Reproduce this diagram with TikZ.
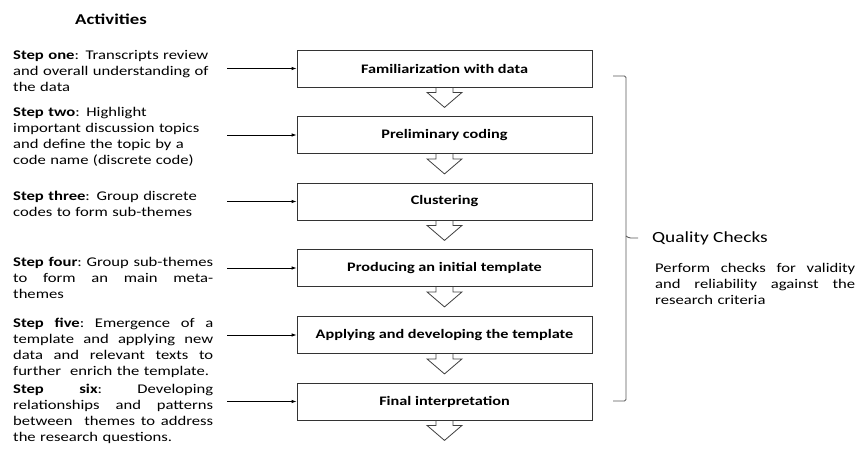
\documentclass[tikz,border=0pt]{standalone}
\usepackage{fontspec}
\setmainfont{Carlito}[FakeStretch=1.25]
\usetikzlibrary{arrows.meta}
% a line whose word spaces stretch to the full column width
\newcommand{\fullline}[1]{\leavevmode\hbox to 200pt{\frenchspacing\spaceskip=0.25em plus 1fil\relax #1}}

\begin{document}
\begin{tikzpicture}[x=1pt,y=-1pt,
  stagebox/.style={draw=black!80, line width=0.8pt, minimum width=295pt,
    minimum height=37pt, inner sep=0pt,
    font=\fontsize{13}{16}\selectfont\bfseries},
  actext/.style={anchor=north west, yshift=11.2pt, inner sep=0pt,
    text width=200pt, align=left, font=\fontsize{13.3}{16}\selectfont},
  feed/.style={-{Latex[length=5pt,width=3.5pt]}, line width=0.8pt},
  hollow/.style={draw=black!75, line width=0.8pt},
  brace/.style={draw=black!65, line width=0.9pt, rounded corners=1.5pt},
]
\useasboundingbox (0,0) rectangle (859,456);

% heading
\node[font=\fontsize{15}{18}\selectfont\bfseries] (head) at (111,19) {Activities};

% process stages
\node[stagebox] (b1) at (444.5,68.5)  {Familiarization with data};
\node[stagebox] (b2) at (444.5,135)   {Preliminary coding};
\node[stagebox] (b3) at (444.5,201.5) {Clustering};
\node[stagebox] (b4) at (444.5,268)   {Producing an initial template};
\node[stagebox] (b5) at (444.5,335)   {Applying and developing the template};
\node[stagebox] (b6) at (444.5,401.5) {Final interpretation};

% hollow block arrows below every stage
\foreach \b in {b1,b2,b3,b4,b5,b6}{
  \draw[hollow, shift={(\b.south)}]
    (-8.5,0) -- (-8.5,5) -- (-17.5,5) -- (0,20) -- (17.5,5) -- (8.5,5) -- (8.5,0);
}

% activity descriptions
\node[actext] (t1) at (13,59.5) {\strut\textbf{Step one}: Transcripts review\\
  and overall understanding of\\ the data};
\node[actext] (t2) at (13,116.5) {\strut\textbf{Step two}: Highlight\\
  important discussion topics\\ and define the topic by a\\
  code name (discrete code)};
\node[actext] (t3) at (13,200) {\strut\textbf{Step three}: Group discrete\\
  codes to form sub-themes};
\node[actext] (t4) at (13,266) {\strut\fullline{\textbf{Step four}: Group sub-themes}\\
  \fullline{to form an main meta-}\\ themes};
\node[actext] (t5) at (13,327) {\strut\fullline{\textbf{Step five}: Emergence of a}\\
  \fullline{template and applying new}\\ \fullline{data and relevant texts to}\\
  further\ \ enrich the template.};
\node[actext] (t6) at (13,393) {\strut\fullline{\textbf{Step six}: Developing}\\
  \fullline{relationships and patterns}\\ \fullline{between\ \ themes to address}\\
  the research questions.};

% feeding arrows
\foreach \i/\y in {1/68.5,2/135,3/201.5,4/268,5/335,6/401.5}{
  \coordinate (s\i) at (227,\y);
  \draw[feed] (s\i) -- (b\i.west);
}

% bracket around the stages
\coordinate (bt) at (613,76);
\coordinate (bb) at (613,401);
\coordinate (bm) at (638,238);
\draw[brace] (bt) -- (626,76) -- (626,401) -- (bb);
\draw[brace] (626,236) -- (629,238) -- (bm);

% quality checks
\node[anchor=west, inner sep=0pt, font=\fontsize{15.5}{18}\selectfont]
  (qc) at (652,238) {Quality Checks};
\node[actext] (qt) at (655,272) {\strut\fullline{Perform checks for validity}\\
  \fullline{and reliability against the}\\ research criteria};
\end{tikzpicture}
\end{document}
